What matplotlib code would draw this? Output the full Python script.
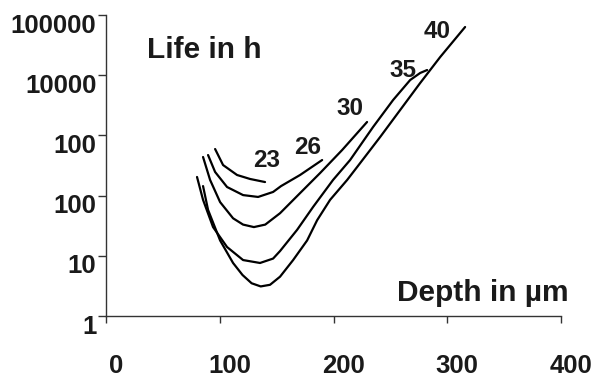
import matplotlib.pyplot as plt
import matplotlib.transforms as mtransforms
from matplotlib.ticker import FixedLocator, FixedFormatter

plt.rcParams['font.family'] = ['Liberation Sans', 'DejaVu Sans']
plt.rcParams['font.weight'] = 'bold'

# curves: depth in um, life in h
depth_23 = [95.9, 102.9, 115.2, 126.6, 139.8]
life_23 = [594, 322, 220, 189, 168]

depth_26 = [89.7, 95.9, 106.4, 120.5, 133.7, 146.9, 153.9, 170.6, 190.0]
life_26 = [472, 247, 139, 102, 95, 115, 144, 220, 390]

depth_30 = [85.3, 91.5, 100.3, 111.7, 120.5, 130.0, 140.0, 153.0, 170.6, 188.2, 207.6, 229.5]
life_30 = [438, 182, 78, 42, 33, 30, 33, 51, 110, 237, 572, 1670]

depth_35 = [80.0, 85.3, 94.1, 106.4, 120.5, 135.4, 146.9, 153.0, 168.0, 182.1, 199.6,
            214.6, 234.8, 252.4, 267.4, 276.2, 282.3]
life_35 = [204, 85, 30, 14, 8.5, 7.6, 9.0, 12, 27, 65, 182,
           390, 1380, 3873, 8318, 10890, 12190]

depth_40 = [85.3, 89.7, 100.3, 111.7, 120.0, 128.0, 136.0, 144.2, 153.0, 164.5, 176.8, 185.6,
            197.0, 212.0, 220.8, 241.0, 258.6, 276.2, 293.8, 315.7]
life_40 = [144, 58, 18, 7.6, 4.8, 3.5, 3.1, 3.3, 4.5, 8.5, 18, 39,
           85, 182, 299, 940, 2642, 7420, 20050, 63200]

curve_names = ['23', '26', '30', '35', '40']
label_x = [141.6, 177.5, 214.6, 261.2, 291.1]
label_y = [376, 618, 2746, 12200, 54200]

y_ticks = [1, 10, 100, 1000, 10000, 100000]
y_ticklabels = ['1', '10', '100', '100', '10000', '100000']
x_ticks = [0, 100, 200, 300, 400]

fig = plt.figure(figsize=(5.93, 3.80), dpi=100)
ax = fig.add_axes([0.1788, 0.1684, 0.9460 - 0.1788, 0.9605 - 0.1684])

ink = '#1a1a1a'
for xs, ys in [(depth_23, life_23), (depth_26, life_26), (depth_30, life_30),
               (depth_35, life_35), (depth_40, life_40)]:
    ax.plot(xs, ys, color='black', lw=1.6, solid_joinstyle='round', solid_capstyle='round')

for name, lx, ly in zip(curve_names, label_x, label_y):
    ax.text(lx, ly, name, fontsize=17.5, fontweight='bold', color=ink, ha='center', va='center')

ax.set_yscale('log')
ax.set_xlim(0, 400)
ax.set_ylim(1, 100000)
ax.yaxis.set_major_locator(FixedLocator(y_ticks))
ax.yaxis.set_major_formatter(FixedFormatter(y_ticklabels))
ax.yaxis.set_minor_locator(FixedLocator([]))
ax.set_xticks(x_ticks)
ax.set_xticklabels([str(v) for v in x_ticks])

for s in ['top', 'right']:
    ax.spines[s].set_visible(False)
for s in ['left', 'bottom']:
    ax.spines[s].set_color('#333333')
    ax.spines[s].set_linewidth(1.0)

ax.tick_params(axis='y', direction='out', length=6, width=1, color='#333333',
               labelsize=18.5, labelcolor=ink, pad=1)
ax.tick_params(axis='x', direction='out', length=5, width=1, color='#333333',
               labelsize=18.5, labelcolor=ink, pad=22)

# shift tick labels like in the original
dy = mtransforms.ScaledTranslation(0, -8 / 100, fig.dpi_scale_trans)
for lab in ax.get_yticklabels():
    lab.set_transform(lab.get_transform() + dy)
dx = mtransforms.ScaledTranslation(10 / 100, 0, fig.dpi_scale_trans)
for lab in ax.get_xticklabels():
    lab.set_transform(lab.get_transform() + dx)

ax.text(36, 10 ** 4.42, 'Life in h', fontsize=21.5, fontweight='bold', color=ink,
        ha='left', va='center')
ax.text(407, 10 ** 0.382, 'Depth in µm', fontsize=21.5, fontweight='bold', color=ink,
        ha='right', va='center', clip_on=False)

fig.savefig('out.png', dpi=100)
